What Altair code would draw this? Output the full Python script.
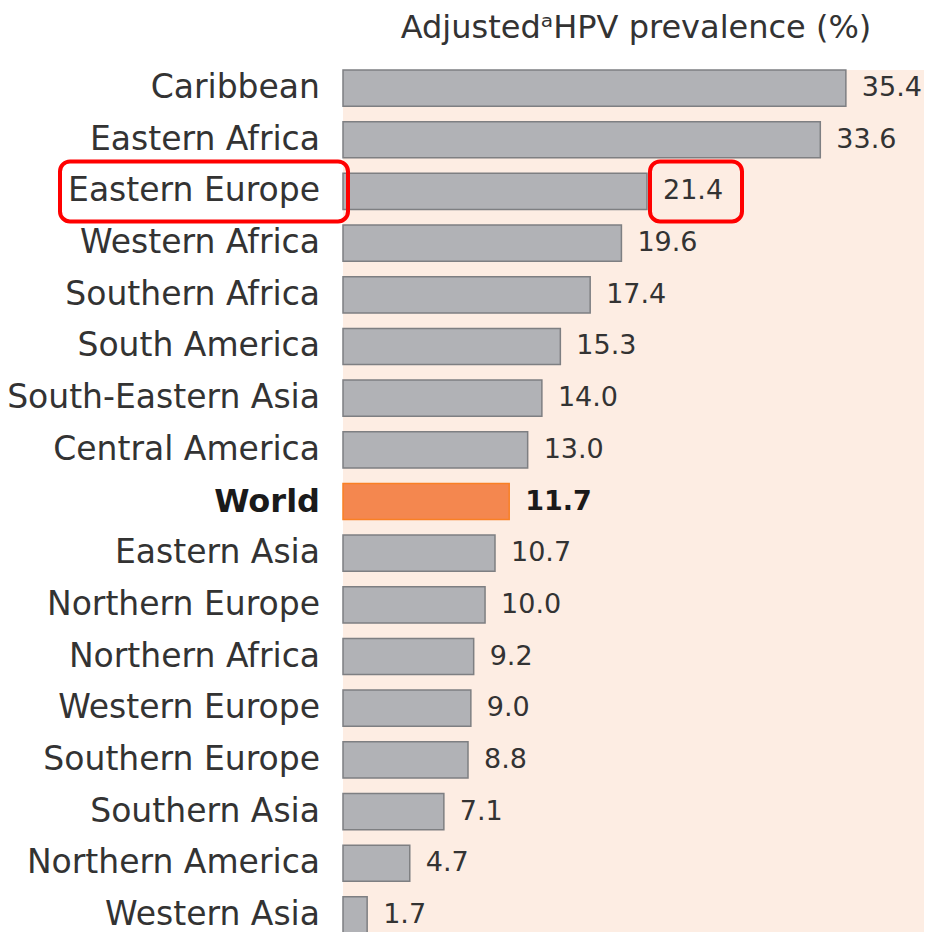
import altair as alt
import pandas as pd

regions = ["Caribbean", "Eastern Africa", "Eastern Europe", "Western Africa",
           "Southern Africa", "South America", "South-Eastern Asia", "Central America",
           "World", "Eastern Asia", "Northern Europe", "Northern Africa",
           "Western Europe", "Southern Europe", "Southern Asia", "Northern America",
           "Western Asia"]
values = [35.4, 33.6, 21.4, 19.6, 17.4, 15.3, 14.0, 13.0, 11.7, 10.7, 10.0, 9.2,
          9.0, 8.8, 7.1, 4.7, 1.7]
title_text = "Adjusted\u1d43HPV prevalence (%)"
highlight = "Eastern Europe"

df = pd.DataFrame({
    "region": regions,
    "value": values,
    "label": [f"{v:.1f}" for v in values],
    "kind": ["World" if r == "World" else "Region" for r in regions],
})

FONT = "DejaVu Sans"
W, H = 581, 862

y = alt.Y("region:N", sort=regions,
          scale=alt.Scale(domain=regions, range=[0, 863], paddingInner=0.3, paddingOuter=0),
          axis=None)
x = alt.X("value:Q", scale=alt.Scale(domain=[0, 40.9], nice=False, zero=True), axis=None)

base = alt.Chart(df)
one = alt.Chart(pd.DataFrame({"k": [0]}))

bg = one.mark_rect(color="#FDEDE3").encode(
    x=alt.value(0), x2=alt.value(W + 10), y=alt.value(0), y2=alt.value(H + 10))

bars = base.mark_bar(strokeWidth=1.5).encode(
    x=x, y=y,
    color=alt.Color("kind:N", scale=alt.Scale(domain=["Region", "World"], range=["#B1B2B6", "#F4874F"]), legend=None),
    stroke=alt.Stroke("kind:N", scale=alt.Scale(domain=["Region", "World"], range=["#7E7F82", "#F98025"]), legend=None),
)

labels = base.transform_filter(alt.datum.region != "World").mark_text(
    align="right", baseline="middle", fontSize=33, font=FONT, color="#333333"
).encode(y=y, x=alt.value(-23), text="region:N")

world_label = base.transform_filter(alt.datum.region == "World").mark_text(
    align="right", baseline="middle", fontSize=32, font=FONT, fontWeight="bold", color="#1a1a1a"
).encode(y=y, x=alt.value(-23), text="region:N")

vals = base.transform_filter(alt.datum.region != "World").mark_text(
    align="left", baseline="middle", dx=16, fontSize=27, font=FONT, color="#333333"
).encode(x=x, y=y, text="label:N")

world_val = base.transform_filter(alt.datum.region == "World").mark_text(
    align="left", baseline="middle", dx=16, fontSize=27, font=FONT, fontWeight="bold", color="#1a1a1a"
).encode(x=x, y=y, text="label:N")

box_label = base.transform_filter(alt.datum.region == highlight).mark_rect(
    fillOpacity=0, stroke="#FF0000", strokeWidth=4, cornerRadius=10, height=60
).encode(y=y, x=alt.value(-283), x2=alt.value(5))

box_val = base.transform_filter(alt.datum.region == highlight).mark_rect(
    fillOpacity=0, stroke="#FF0000", strokeWidth=4, cornerRadius=10, height=60
).encode(y=y, x=alt.value(307), x2=alt.value(399))

title = one.mark_text(
    align="center", baseline="alphabetic", fontSize=32, font=FONT, color="#333333"
).encode(x=alt.value(293), y=alt.value(-32), text=alt.value(title_text))

chart = alt.layer(bg, bars, labels, world_label, vals, world_val, box_label, box_val, title).properties(
    width=W, height=H,
    autosize=alt.AutoSizeParams(type="none"),
    padding={"left": 335, "top": 62, "right": 0, "bottom": 0},
).configure_view(stroke=None)

chart.save("out.html", embed_options={"renderer": "svg", "actions": False})
